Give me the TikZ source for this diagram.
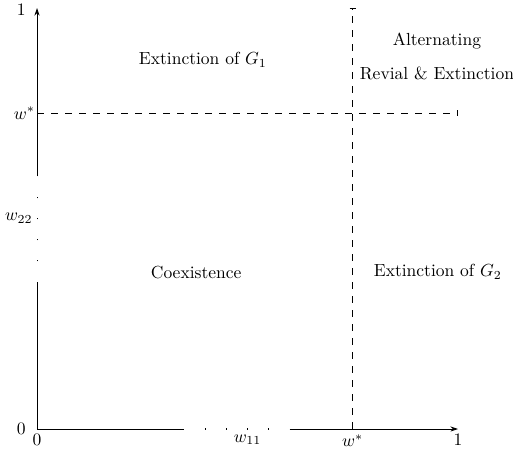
\documentclass[tikz,border=0pt]{standalone}
\usepackage{amsmath,amssymb}
\usepackage{xcolor}
\usepackage{tikz}
\usetikzlibrary{arrows.meta,positioning}
\definecolor{axiscolor}{HTML}{000000}
\tikzset{
  >=Stealth,
  axis line/.style={
    draw=axiscolor,
    line width=0.5pt,
    -{Stealth[length=1.5mm,width=1.0mm]}
  },
  axis piece/.style={
    draw=axiscolor,
    line width=0.5pt
  },
  gap dot/.style={
    draw=axiscolor,
    line width=0.45pt
  },
  threshold/.style={
    draw=axiscolor,
    line width=0.45pt,
    dash pattern=on 4pt off 4pt,
    -{Bar[width=1.3mm,line width=0.45pt]}
  },
  region label/.style={
    font=\normalsize,
    align=center
  },
  tick label/.style={
    font=\normalsize,
    inner sep=1pt
  }
}
\begin{document}
\begin{tikzpicture}[x=8.45cm,y=8.45cm]
  \useasboundingbox (-0.0879,-0.0569) rectangle (1.1306,1.019);

  % axes, broken in the middle
  \coordinate (O) at (0,0);
  \coordinate (X-a) at (0.35,0);
  \coordinate (X-b) at (0.60,0);
  \coordinate (X-1) at (1,0);
  \coordinate (Y-a) at (0,0.35);
  \coordinate (Y-b) at (0,0.60);
  \coordinate (Y-1) at (0,1);

  \draw[axis piece] (O) -- (X-a);
  \draw[axis line] (X-b) -- (X-1);
  \draw[axis piece] (O) -- (Y-a);
  \draw[axis line] (Y-b) -- (Y-1);

  \foreach \t in {0.40,0.45,0.50,0.55}{
    \draw[gap dot] (\t,0) ++(0,-0.5pt) -- ++(0,1pt);
    \draw[gap dot] (0,\t) ++(0,-0.5pt) -- ++(0,1pt);
  }

  % thresholds
  \coordinate (W-x) at (0.75,0);
  \coordinate (W-xtop) at (0.75,1);
  \coordinate (W-y) at (0,0.75);
  \coordinate (W-yend) at (1,0.75);
  \draw[threshold] (W-x) -- (W-xtop);
  \draw[threshold] (W-y) -- (W-yend);

  % tick labels
  \node[tick label,anchor=east] (L-y1) at (-0.022,0.995) {$1$};
  \node[tick label,anchor=east] (L-yw) at (0.0,0.75) {$w^*$};
  \node[tick label,anchor=east] (L-y22) at (-0.006,0.500) {$w_{22}$};
  \node[tick label,anchor=east] (L-y0) at (-0.022,0.0) {$0$};
  \node[tick label,anchor=north] (L-x0) at (0,-0.008) {$0$};
  \node[tick label,anchor=north] (L-x11) at (0.5,-0.008) {$w_{11}$};
  \node[tick label,anchor=north] (L-xw) at (0.75,-0.008) {$w^*$};
  \node[tick label,anchor=north] (L-x1) at (1.0,-0.008) {$1$};

  % regions
  \node[region label] (R-g1) at (0.394,0.877) {Extinction of $G_1$};
  \node[region label] (R-alt) at (0.950,0.885)
    {Alternating\\[7pt]Revial \& Extinction};
  \node[region label] (R-co) at (0.378,0.372) {Coexistence};
  \node[region label] (R-g2) at (0.952,0.374) {Extinction of $G_2$};
\end{tikzpicture}
\end{document}
